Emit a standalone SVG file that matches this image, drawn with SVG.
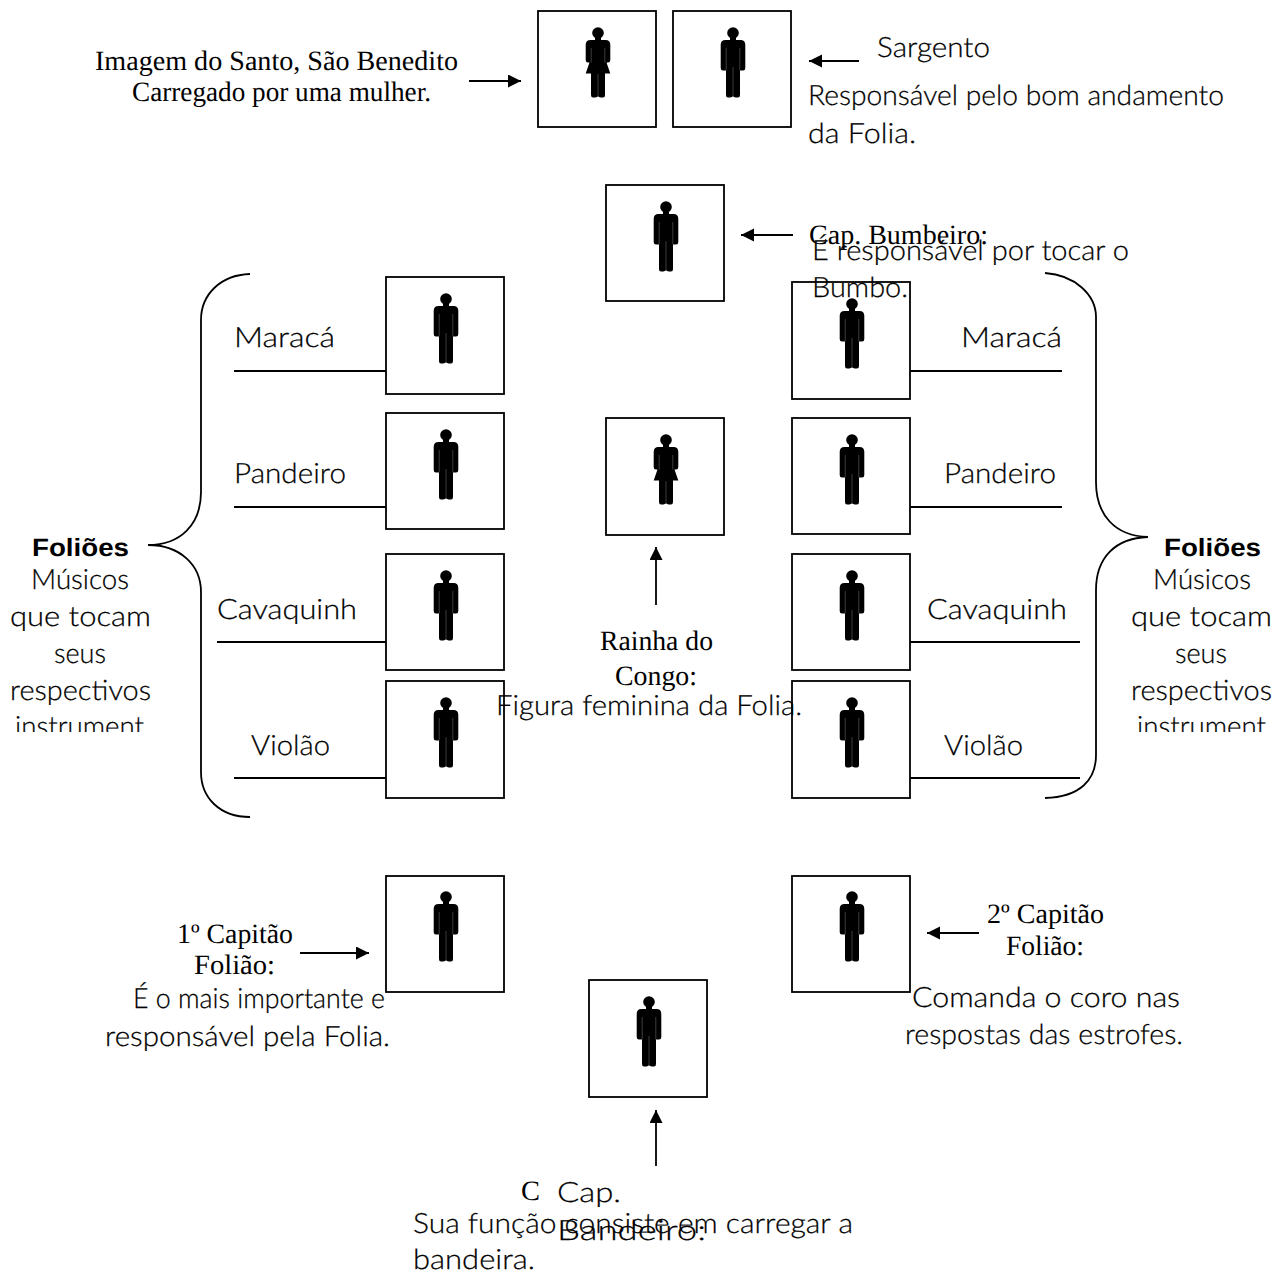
<svg xmlns="http://www.w3.org/2000/svg" width="1280" height="1274" viewBox="0 0 1280 1274">
<style>
.b{fill:#fff;stroke:#000;stroke-width:1.8}
.c{fill:none;stroke:#000;stroke-width:1.8}
.a{fill:none;stroke:#000;stroke-width:1.8;marker-end:url(#ah)}
text{fill:#000;text-rendering:geometricPrecision}
.s{font-family:"Lato","Liberation Sans",sans-serif;font-size:28px;font-weight:300;stroke:#000;stroke-width:.25}
.t{font-family:"Liberation Serif",serif;font-size:28px}
.f{font-family:"Liberation Sans",Arial,sans-serif;font-size:25px;font-weight:bold}
.g{stroke:#fff;stroke-width:.6;opacity:.4}
</style>
<defs>
<marker id="ah" markerUnits="userSpaceOnUse" markerWidth="14" markerHeight="14" refX="13" refY="6.500" orient="auto"><path d="M0 0L13 6.500L0 13Z" fill="#000"/></marker>
<symbol id="man" overflow="visible"><circle cx="0" cy="0" r="5.800" fill="#000"/><path d="M-3 4H3V7H7.500Q12.300 7 12.300 12V35Q12.300 37.500 10 37.500H7V36V62Q7 64.500 5 64.500H2.500L0 63.500L-2.500 64.500H-5Q-7 64.500 -7 62V37.500H-10Q-12.300 37.500 -12.300 35V12Q-12.300 7 -7.500 7H-3Z" fill="#000"/><path class="g" d="M-6.800 15V37.500M6.800 15V37.500M0 34V64.500"/></symbol>
<symbol id="woman" overflow="visible"><circle cx="0" cy="0" r="5.800" fill="#000"/><path d="M-3 4H3V7H7.500Q12.300 7 12.300 12V27Q12.300 29.500 10 29.500H8.500L12.300 40.500H7V62Q7 64.500 5 64.500H2.500L0 63.500L-2.500 64.500H-5Q-7 64.500 -7 62V40.500H-12.300L-8.500 29.500H-10Q-12.300 29.500 -12.300 27V12Q-12.300 7 -7.500 7H-3Z" fill="#000"/><path class="g" d="M-6.800 15V29.500M6.800 15V29.500M0 41V64.500"/></symbol>
<clipPath id="cl"><rect x="0" y="500" width="1280" height="232"/></clipPath>
</defs>
<g id="connectors">
<path class="a" d="M469 81H521"/><path class="a" d="M859 61H809"/><path class="a" d="M793 235H741"/><path class="a" d="M656 605V547"/><path class="a" d="M300 953H369"/><path class="a" d="M979 933H927"/><path class="a" d="M656 1166V1110"/>
<path class="c" d="M234 371H386M234 507H386M217 642H386M234 778H386M910 371H1062M910 507H1062M910 642H1080M910 778H1080"/>
<path class="c" d="M250 274C220 275 201 295 201 320V492C201 525 180 545 148 545C180 545 201 565 201 592V772C201 798 220 817 250 817"/>
<path class="c" d="M1045 273C1075 275 1096 295 1096 317V482C1096 515 1115 536 1148 537C1115 538 1096 558 1096 590V755C1096 780 1080 797 1045 798"/>
</g>
<g id="n-santo"><rect class="b" x="538" y="11" width="118" height="116"/><use href="#woman" x="598" y="33"/></g>
<g id="n-sargento"><rect class="b" x="673" y="11" width="118" height="116"/><use href="#man" x="733" y="33"/></g>
<g id="n-bumbeiro"><rect class="b" x="606" y="185" width="118" height="116"/><use href="#man" x="666" y="207"/></g>
<g id="n-l1"><rect class="b" x="386" y="277" width="118" height="117"/><use href="#man" x="446" y="299"/></g>
<g id="n-l2"><rect class="b" x="386" y="413" width="118" height="116"/><use href="#man" x="446" y="435"/></g>
<g id="n-l3"><rect class="b" x="386" y="554" width="118" height="116"/><use href="#man" x="446" y="576"/></g>
<g id="n-l4"><rect class="b" x="386" y="681" width="118" height="117"/><use href="#man" x="446" y="703"/></g>
<g id="n-r1"><rect class="b" x="792" y="282" width="118" height="117"/><use href="#man" x="852" y="304"/></g>
<g id="n-r2"><rect class="b" x="792" y="418" width="118" height="116"/><use href="#man" x="852" y="440"/></g>
<g id="n-r3"><rect class="b" x="792" y="554" width="118" height="116"/><use href="#man" x="852" y="576"/></g>
<g id="n-r4"><rect class="b" x="792" y="681" width="118" height="117"/><use href="#man" x="852" y="703"/></g>
<g id="n-rainha"><rect class="b" x="606" y="418" width="118" height="117"/><use href="#woman" x="666" y="440"/></g>
<g id="n-cap1"><rect class="b" x="386" y="876" width="118" height="116"/><use href="#man" x="446" y="897"/></g>
<g id="n-cap2"><rect class="b" x="792" y="876" width="118" height="116"/><use href="#man" x="852" y="897"/></g>
<g id="n-bandeireiro"><rect class="b" x="589" y="980" width="118" height="117"/><use href="#man" x="649" y="1002"/></g>
<g id="labels">
<text class="t" x="95" y="70" textLength="363" lengthAdjust="spacingAndGlyphs">Imagem do Santo, São Benedito</text>
<text class="t" x="132" y="101" textLength="299" lengthAdjust="spacingAndGlyphs">Carregado por uma mulher.</text>
<text class="s" x="877" y="57" textLength="113" lengthAdjust="spacingAndGlyphs">Sargento</text>
<text class="s" x="808" y="105" textLength="416" lengthAdjust="spacingAndGlyphs">Responsável pelo bom andamento</text>
<text class="s" x="808" y="143" textLength="108" lengthAdjust="spacingAndGlyphs">da Folia.</text>
<text class="t" x="809" y="244" textLength="179" lengthAdjust="spacingAndGlyphs">Cap. Bumbeiro:</text>
<text class="s" x="812" y="260" textLength="317" lengthAdjust="spacingAndGlyphs">É responsável por tocar o</text>
<text class="s" x="812" y="297" textLength="96" lengthAdjust="spacingAndGlyphs">Bumbo.</text>
<text class="s" x="234" y="347" textLength="101" lengthAdjust="spacingAndGlyphs">Maracá</text>
<text class="s" x="234" y="483" textLength="112" lengthAdjust="spacingAndGlyphs">Pandeiro</text>
<text class="s" x="217" y="619" textLength="140" lengthAdjust="spacingAndGlyphs">Cavaquinh</text>
<text class="s" x="251" y="755" textLength="79" lengthAdjust="spacingAndGlyphs">Violão</text>
<text class="s" x="961" y="347" textLength="101" lengthAdjust="spacingAndGlyphs">Maracá</text>
<text class="s" x="944" y="483" textLength="112" lengthAdjust="spacingAndGlyphs">Pandeiro</text>
<text class="s" x="927" y="619" textLength="140" lengthAdjust="spacingAndGlyphs">Cavaquinh</text>
<text class="s" x="944" y="755" textLength="79" lengthAdjust="spacingAndGlyphs">Violão</text>
<text class="f" x="32" y="556" textLength="97" lengthAdjust="spacingAndGlyphs">Foliões</text>
<g clip-path="url(#cl)">
<text class="s" x="31" y="589" textLength="98" lengthAdjust="spacingAndGlyphs">Músicos</text>
<text class="s" x="10" y="626" textLength="141" lengthAdjust="spacingAndGlyphs">que tocam</text>
<text class="s" x="54" y="663" textLength="52" lengthAdjust="spacingAndGlyphs">seus</text>
<text class="s" x="10" y="700" textLength="141" lengthAdjust="spacingAndGlyphs">respectivos</text>
<text class="s" x="15" y="736" textLength="129" lengthAdjust="spacingAndGlyphs">instrument</text>
</g>
<text class="f" x="1164" y="556" textLength="97" lengthAdjust="spacingAndGlyphs">Foliões</text>
<g clip-path="url(#cl)">
<text class="s" x="1153" y="589" textLength="98" lengthAdjust="spacingAndGlyphs">Músicos</text>
<text class="s" x="1131" y="626" textLength="141" lengthAdjust="spacingAndGlyphs">que tocam</text>
<text class="s" x="1175" y="663" textLength="52" lengthAdjust="spacingAndGlyphs">seus</text>
<text class="s" x="1131" y="700" textLength="141" lengthAdjust="spacingAndGlyphs">respectivos</text>
<text class="s" x="1137" y="736" textLength="129" lengthAdjust="spacingAndGlyphs">instrument</text>
</g>
<text class="t" x="600" y="650" textLength="113" lengthAdjust="spacingAndGlyphs">Rainha do</text>
<text class="t" x="615" y="685" textLength="82" lengthAdjust="spacingAndGlyphs">Congo:</text>
<text class="s" x="496" y="715" textLength="306" lengthAdjust="spacingAndGlyphs">Figura feminina da Folia.</text>
<text class="t" x="177" y="943" textLength="116" lengthAdjust="spacingAndGlyphs">1º Capitão</text>
<text class="t" x="194" y="974" textLength="81" lengthAdjust="spacingAndGlyphs">Folião:</text>
<text class="s" x="133" y="1008" textLength="252" lengthAdjust="spacingAndGlyphs">É o mais importante e</text>
<text class="s" x="105" y="1046" textLength="285" lengthAdjust="spacingAndGlyphs">responsável pela Folia.</text>
<text class="t" x="987" y="923" textLength="117" lengthAdjust="spacingAndGlyphs">2º Capitão</text>
<text class="t" x="1006" y="955" textLength="78" lengthAdjust="spacingAndGlyphs">Folião:</text>
<text class="s" x="912" y="1007" textLength="268" lengthAdjust="spacingAndGlyphs">Comanda o coro nas</text>
<text class="s" x="905" y="1044" textLength="278" lengthAdjust="spacingAndGlyphs">respostas das estrofes.</text>
<text class="t" x="521" y="1200" textLength="19" lengthAdjust="spacingAndGlyphs">C</text>
<text class="s" x="557" y="1202" textLength="64" lengthAdjust="spacingAndGlyphs">Cap.</text>
<text class="s" x="413" y="1233" textLength="440" lengthAdjust="spacingAndGlyphs">Sua função consiste em carregar a</text>
<text class="s" x="557" y="1240" textLength="149" lengthAdjust="spacingAndGlyphs">Bandeiro:</text>
<text class="s" x="413" y="1269" textLength="122" lengthAdjust="spacingAndGlyphs">bandeira.</text>
</g>
</svg>
